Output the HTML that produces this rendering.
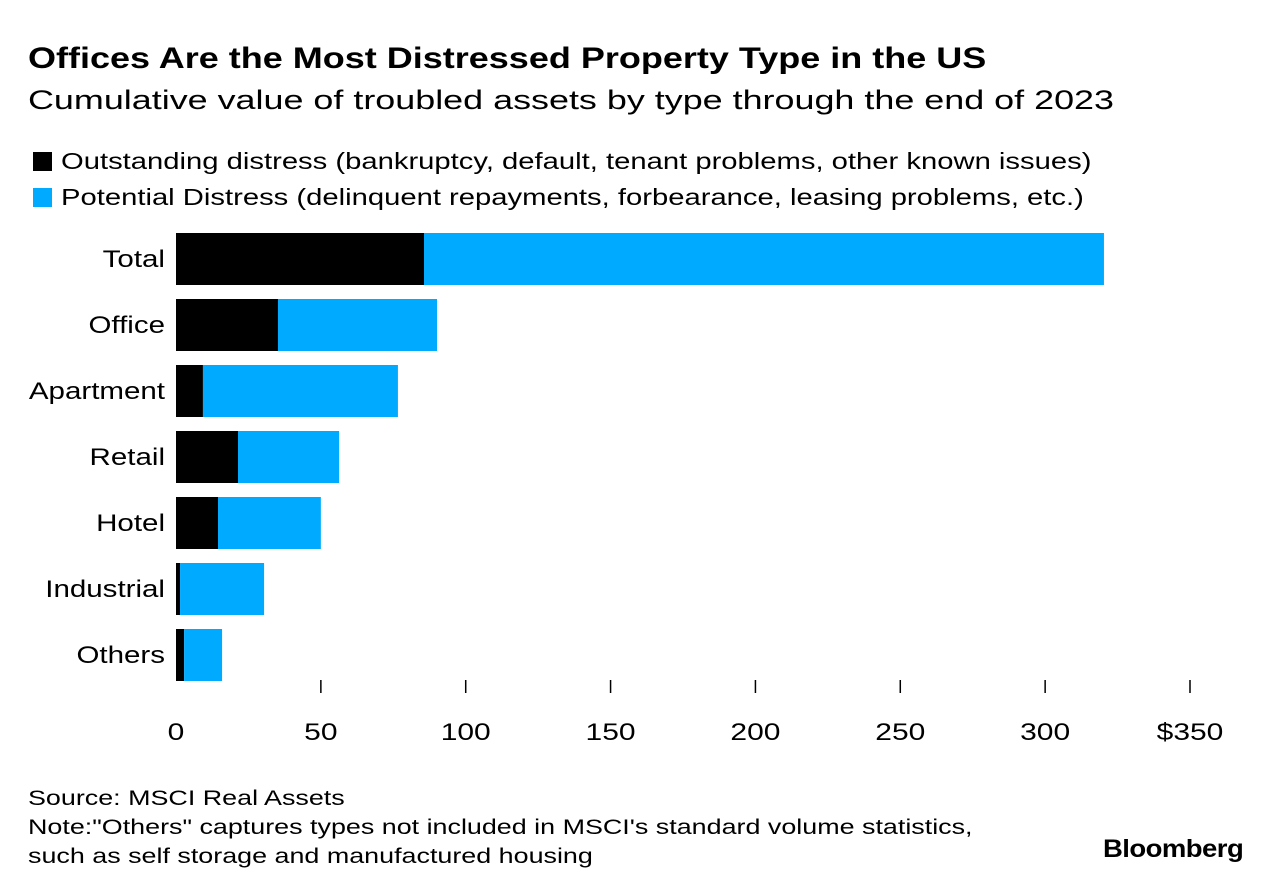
<!DOCTYPE html>
<html><head><meta charset="utf-8"><style>
body{margin:0;width:1281px;height:894px;background:#fff;font-family:"Liberation Sans",sans-serif;color:#000;overflow:hidden}
.t{position:absolute;white-space:nowrap;transform-origin:0 0}
</style></head><body>
<div class="t" style="left:28px;top:42px;font-size:30px;font-weight:bold;transform:scaleX(1.2)">Offices Are the Most Distressed Property Type in the US</div>
<div class="t" style="left:28px;top:85px;font-size:27px;transform:scaleX(1.33)">Cumulative value of troubled assets by type through the end of 2023</div>
<div class="t" style="left:33px;top:148px;font-size:23px"><span style="display:inline-block;width:19px;height:19px;background:#000;vertical-align:-2px;margin-right:9px"></span><span style="display:inline-block;transform-origin:0 0;transform:scaleX(1.27)">Outstanding distress (bankruptcy, default, tenant problems, other known issues)</span></div>
<div class="t" style="left:33px;top:184px;font-size:23px"><span style="display:inline-block;width:19px;height:19px;background:#00aaff;vertical-align:-2px;margin-right:9px"></span><span style="display:inline-block;transform-origin:0 0;transform:scaleX(1.27)">Potential Distress (delinquent repayments, forbearance, leasing problems, etc.)</span></div>
<svg id="chart" width="1281" height="894" style="position:absolute;left:0;top:0"></svg>
<div class="t" style="left:28px;top:784px;font-size:21px;line-height:29px;transform:scaleX(1.28)">Source: MSCI Real Assets<br>Note:"Others" captures types not included in MSCI's standard volume statistics,<br>such as self storage and manufactured housing</div>
<div class="t" style="left:1103px;top:835px;font-size:25px;font-weight:bold;letter-spacing:-0.5px;transform:scaleX(1.1)">Bloomberg</div>
<script>
const categories=["Total","Office","Apartment","Retail","Hotel","Industrial","Others"];
const outstanding=[85.6,35.2,9.3,21.4,14.5,1.4,2.8];
const potential=[234.7,54.9,67.3,34.9,35.5,29.0,13.1];
const ticks=[0,50,100,150,200,250,300,350];
const tickLabels=["0","50","100","150","200","250","300","$350"];
const svg=document.getElementById('chart');
const NS="http://www.w3.org/2000/svg";
const x=v=>176+v*(1014/350);
const yTop=i=>233+i*66;
function mk(t,a){const e=document.createElementNS(NS,t);for(const k in a)e.setAttribute(k,a[k]);svg.appendChild(e);return e;}
categories.forEach((c,i)=>{
  const r1=mk('rect',{x:x(0),y:yTop(i),width:x(outstanding[i])-x(0),height:52,fill:'#000'});
  
  
  const r2=mk('rect',{x:x(outstanding[i]),y:yTop(i),width:x(outstanding[i]+potential[i])-x(outstanding[i]),height:52,fill:'#00aaff'});
  
  
  const t=mk('text',{x:0,y:0,transform:'translate(165,'+(yTop(i)+34)+') scale(1.23,1)','text-anchor':'end','font-size':24,'font-family':'Liberation Sans, sans-serif'});
  t.textContent=c;
  
  
});
ticks.forEach((v,i)=>{
  if(i>0){const l=mk('line',{x1:x(v),x2:x(v),y1:680,y2:693,stroke:'#000','stroke-width':1.5});
  
  }
  const t=mk('text',{x:0,y:0,transform:'translate('+x(v)+',740) scale(1.25,1)','text-anchor':'middle','font-size':24,'font-family':'Liberation Sans, sans-serif'});
  t.textContent=tickLabels[i];
  
  
});
</script>
</body></html>
